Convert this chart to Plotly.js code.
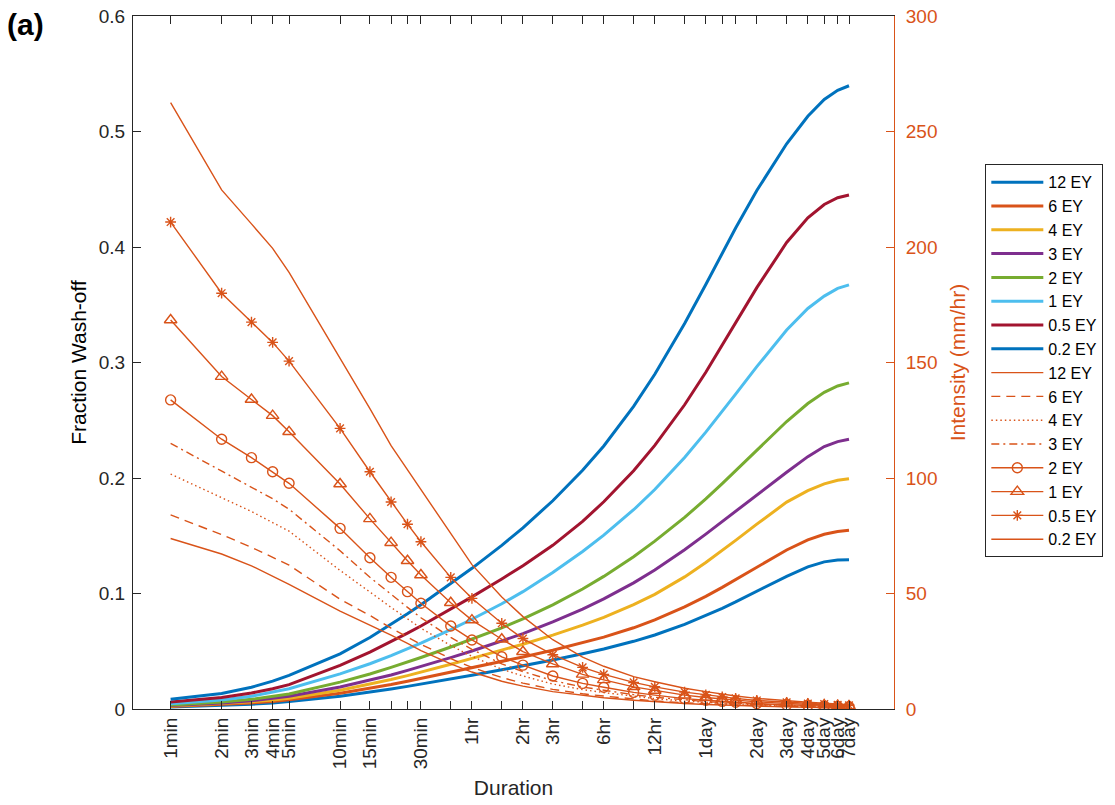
<!DOCTYPE html>
<html>
<head>
<meta charset="utf-8">
<script src="https://cdn.plot.ly/plotly-3.0.1.min.js"></script>
<style>
  html, body { margin: 0; padding: 0; background: #ffffff; }
  #chart { width: 1115px; height: 805px; }
</style>
</head>
<body>
<div id="chart"></div>
<script>
// Durations in minutes (ARR standard durations)
const durations = [1, 2, 3, 4, 5, 10, 15, 20, 25, 30, 45, 60, 90, 120, 180, 270, 360, 540, 720, 1080, 1440, 1800, 2160, 2880, 4320, 5760, 7200, 8640, 10080];
const tickLabels = ['1min', '2min', '3min', '4min', '5min', '10min', '15min', '', '', '30min', '', '1hr', '', '2hr', '3hr', '', '6hr', '', '12hr', '', '1day', '', '', '2day', '3day', '4day', '5day', '6day', '7day'];

const eyLabels = ['12 EY', '6 EY', '4 EY', '3 EY', '2 EY', '1 EY', '0.5 EY', '0.2 EY'];

// Fraction wash-off (left axis)
const wash12 = [0.0017, 0.0030, 0.0042, 0.0053, 0.0064, 0.0111, 0.0145, 0.0173, 0.0196, 0.0215, 0.0260, 0.0292, 0.0339, 0.0373, 0.0425, 0.0478, 0.0519, 0.0586, 0.0641, 0.0733, 0.0808, 0.0872, 0.0927, 0.1017, 0.1149, 0.1230, 0.1274, 0.1290, 0.1293];
const wash6 = [0.0022, 0.0038, 0.0053, 0.0066, 0.0079, 0.0136, 0.0178, 0.0212, 0.0240, 0.0264, 0.0319, 0.0359, 0.0412, 0.0451, 0.0509, 0.0572, 0.0622, 0.0703, 0.0771, 0.0884, 0.0975, 0.1053, 0.1120, 0.1229, 0.1377, 0.1464, 0.1513, 0.1537, 0.1547];
const wash4 = [0.0026, 0.0045, 0.0062, 0.0078, 0.0094, 0.0163, 0.0214, 0.0255, 0.0289, 0.0318, 0.0387, 0.0438, 0.0508, 0.0561, 0.0640, 0.0726, 0.0794, 0.0903, 0.0993, 0.1144, 0.1268, 0.1372, 0.1460, 0.1601, 0.1791, 0.1891, 0.1949, 0.1981, 0.1994];
const wash3 = [0.0030, 0.0052, 0.0072, 0.0091, 0.0110, 0.0191, 0.0249, 0.0295, 0.0334, 0.0367, 0.0445, 0.0502, 0.0587, 0.0652, 0.0754, 0.0865, 0.0953, 0.1092, 0.1203, 0.1379, 0.1514, 0.1624, 0.1716, 0.1856, 0.2050, 0.2185, 0.2272, 0.2315, 0.2335];
const wash2 = [0.0035, 0.0061, 0.0084, 0.0107, 0.0130, 0.0233, 0.0303, 0.0360, 0.0406, 0.0446, 0.0537, 0.0605, 0.0703, 0.0781, 0.0902, 0.1039, 0.1148, 0.1319, 0.1453, 0.1659, 0.1819, 0.1952, 0.2065, 0.2246, 0.2489, 0.2645, 0.2742, 0.2797, 0.2824];
const wash1 = [0.0045, 0.0078, 0.0111, 0.0144, 0.0175, 0.0304, 0.0392, 0.0462, 0.0520, 0.0570, 0.0688, 0.0777, 0.0911, 0.1016, 0.1181, 0.1364, 0.1505, 0.1725, 0.1900, 0.2178, 0.2397, 0.2576, 0.2726, 0.2964, 0.3281, 0.3468, 0.3575, 0.3642, 0.3672];
const wash05 = [0.0060, 0.0099, 0.0138, 0.0175, 0.0211, 0.0377, 0.0493, 0.0583, 0.0657, 0.0719, 0.0865, 0.0971, 0.1126, 0.1241, 0.1417, 0.1625, 0.1794, 0.2063, 0.2282, 0.2634, 0.2915, 0.3148, 0.3342, 0.3648, 0.4039, 0.4252, 0.4368, 0.4427, 0.4450];
const wash02 = [0.0084, 0.0135, 0.0188, 0.0241, 0.0291, 0.0478, 0.0619, 0.0731, 0.0824, 0.0903, 0.1084, 0.1218, 0.1417, 0.1569, 0.1803, 0.2067, 0.2277, 0.2620, 0.2898, 0.3338, 0.3676, 0.3947, 0.4164, 0.4489, 0.4894, 0.5132, 0.5277, 0.5356, 0.5396];

// Rainfall intensity, mm/hr (right axis)
const int12 = [73.8, 67.1, 62.0, 57.6, 54.0, 42.4, 36.4, 32.0, 28.4, 25.3, 19.5, 16.0, 12.0, 9.9, 7.5, 5.8, 4.9, 3.8, 3.1, 2.35, 1.95, 1.70, 1.50, 1.20, 0.90, 0.75, 0.65, 0.57, 0.50];
const int6 = [84.0, 75.5, 70.0, 65.7, 62.3, 47.5, 40.5, 35.0, 31.0, 28.0, 21.8, 18.0, 13.6, 11.2, 8.5, 6.6, 5.6, 4.3, 3.5, 2.70, 2.25, 1.95, 1.75, 1.40, 1.05, 0.88, 0.75, 0.66, 0.60];
const int4 = [101.7, 91.5, 85.5, 80.7, 77.0, 60.0, 50.5, 44.0, 39.0, 35.0, 27.5, 22.8, 17.2, 14.3, 10.8, 8.4, 7.1, 5.4, 4.5, 3.40, 2.85, 2.45, 2.20, 1.80, 1.35, 1.10, 0.95, 0.85, 0.75];
const int3 = [115.0, 103.0, 96.0, 91.0, 86.5, 68.5, 57.0, 49.5, 44.0, 39.5, 31.0, 25.8, 19.5, 16.2, 12.3, 9.5, 8.0, 6.2, 5.1, 3.90, 3.20, 2.80, 2.50, 2.00, 1.50, 1.30, 1.10, 0.95, 0.85];
const int2 = [133.8, 116.8, 108.8, 102.7, 97.7, 78.2, 65.5, 57.0, 50.8, 45.8, 35.9, 29.9, 22.6, 19.0, 14.3, 11.1, 9.4, 7.2, 6.0, 4.5, 3.8, 3.3, 2.9, 2.4, 1.8, 1.5, 1.3, 1.1, 1.0];
const int1 = [168.4, 143.9, 134.0, 127.0, 120.0, 97.4, 82.3, 72.0, 64.2, 58.0, 46.0, 38.5, 30.2, 24.8, 19.5, 15.0, 12.6, 9.6, 8.0, 6.0, 5.0, 4.3, 3.8, 3.1, 2.4, 2.0, 1.7, 1.5, 1.3];
const int05 = [210.8, 180.0, 167.5, 158.7, 150.6, 121.5, 102.7, 89.6, 80.0, 72.4, 57.0, 47.9, 37.1, 30.5, 23.5, 18.0, 15.0, 11.5, 9.6, 7.3, 6.1, 5.2, 4.6, 3.7, 2.9, 2.4, 2.1, 1.8, 1.6];
const int02 = [262.5, 224.7, 210.0, 199.4, 189.0, 152.0, 130.0, 114.0, 103.5, 95.0, 75.5, 62.5, 48.5, 40.0, 30.0, 22.5, 18.5, 14.0, 11.8, 9.0, 7.5, 6.4, 5.6, 4.6, 3.5, 2.9, 2.5, 2.2, 1.9];

const washSeries = [wash12, wash6, wash4, wash3, wash2, wash1, wash05, wash02];
const intSeries = [int12, int6, int4, int3, int2, int1, int05, int02];

const washColors = ['#0072BD', '#D95319', '#EDB120', '#7E2F8E', '#77AC30', '#4DBEEE', '#A2142F', '#0072BD'];
const orange = '#D95319';
const intDash = ['solid', '9px,6px', '1.5px,3px', '8px,4px,2px,4px', 'solid', 'solid', 'solid', 'solid'];
const intSymbol = [null, null, null, null, 'circle-open', 'triangle-up-open', 'asterisk-open', null];
const intSize = [0, 0, 0, 0, 10, 11, 9, 0];

const traces = [];
washSeries.forEach((vals, i) => {
  traces.push({
    x: durations, y: vals, name: eyLabels[i], type: 'scatter', mode: 'lines',
    line: { color: washColors[i], width: 3 }, yaxis: 'y', hoverinfo: 'skip'
  });
});
intSeries.forEach((vals, i) => {
  const t = {
    x: durations, y: vals, name: eyLabels[i], type: 'scatter',
    mode: intSymbol[i] ? 'lines+markers' : 'lines',
    line: { color: orange, width: 1.4, dash: intDash[i] }, yaxis: 'y2', hoverinfo: 'skip'
  };
  if (intSymbol[i]) {
    t.marker = { symbol: intSymbol[i], size: intSize[i], color: orange, line: { color: orange, width: 1.4 } };
  }
  traces.push(t);
});

const fontFam = 'Liberation Sans, Arial, Helvetica, sans-serif';
const axisCol = '#262626';

const layout = {
  width: 1115, height: 805,
  margin: { l: 133, r: 214, t: 16, b: 96 },
  paper_bgcolor: '#ffffff', plot_bgcolor: '#ffffff',
  font: { family: fontFam, size: 19, color: axisCol },
  showlegend: true,
  legend: {
    x: 1.12, y: 0.786, xanchor: 'left', yanchor: 'top',
    bgcolor: '#ffffff', bordercolor: axisCol, borderwidth: 1,
    font: { family: fontFam, size: 16, color: '#000000' },
    itemwidth: 52, tracegroupgap: 0
  },
  xaxis: {
    type: 'log',
    range: [-0.222, 4.269],
    tickvals: durations, ticktext: tickLabels,
    tickangle: -90,
    ticks: 'inside', ticklen: 8, tickwidth: 1, tickcolor: axisCol,
    showline: true, linecolor: axisCol, linewidth: 1, mirror: 'ticks',
    showgrid: false, zeroline: false,
    tickfont: { family: fontFam, size: 19, color: axisCol },
    title: { text: 'Duration', font: { family: fontFam, size: 21, color: axisCol }, standoff: 11 }
  },
  yaxis: {
    range: [0, 0.6], tickvals: [0, 0.1, 0.2, 0.3, 0.4, 0.5, 0.6],
    ticktext: ['0', '0.1', '0.2', '0.3', '0.4', '0.5', '0.6'],
    ticks: 'inside', ticklen: 8, tickcolor: axisCol,
    showline: true, linecolor: axisCol, linewidth: 1, mirror: false,
    showgrid: false, zeroline: false, ticklabelstandoff: 3,
    tickfont: { family: fontFam, size: 19, color: axisCol },
    title: { text: 'Fraction Wash-off', font: { family: fontFam, size: 21, color: '#000000' }, standoff: 6 }
  },
  yaxis2: {
    overlaying: 'y', side: 'right',
    range: [0, 300], tickvals: [0, 50, 100, 150, 200, 250, 300],
    ticks: 'inside', ticklen: 8, tickcolor: orange,
    showline: true, linecolor: orange, linewidth: 1,
    showgrid: false, zeroline: false, ticklabelstandoff: 7,
    tickfont: { family: fontFam, size: 19, color: orange },
    title: { text: 'Intensity (mm/hr)', font: { family: fontFam, size: 21, color: orange }, standoff: 13 }
  },
  annotations: [{
    text: '<b>(a)</b>', xref: 'paper', yref: 'paper', x: -0.168, y: 1.015,
    xanchor: 'left', yanchor: 'top', showarrow: false,
    font: { family: fontFam, size: 30, color: '#000000' }
  }]
};

Plotly.newPlot('chart', traces, layout, { displayModeBar: false, staticPlot: true });
</script>
</body>
</html>
